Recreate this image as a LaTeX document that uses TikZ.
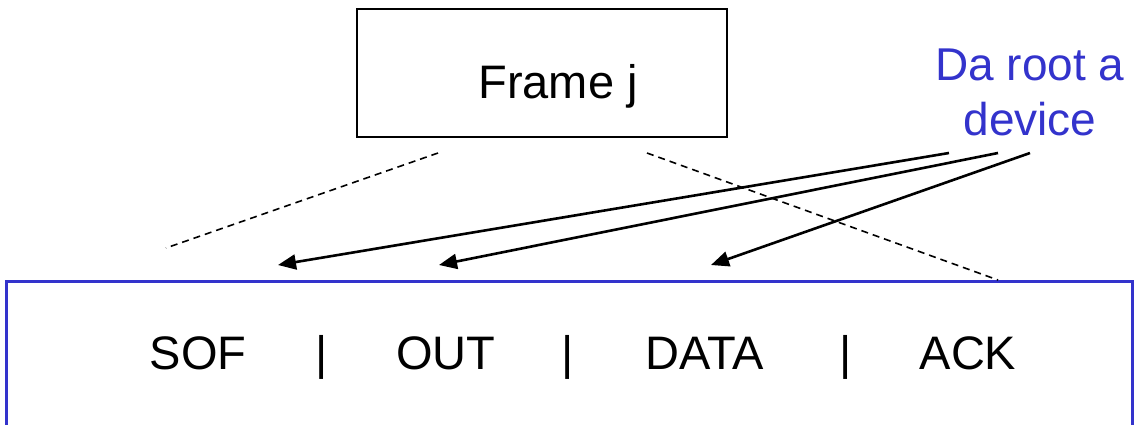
\documentclass[tikz,border=0pt]{standalone}
\usepackage{fontspec}
\setmainfont{Liberation Sans}
\usetikzlibrary{arrows.meta}
\definecolor{frameblue}{HTML}{3333CC}
\tikzset{
  framebox/.style={draw=black, line width=2.6pt, minimum width=370pt, minimum height=128pt, inner sep=0pt},
  packetbox/.style={draw=frameblue, line width=3pt, minimum width=1126pt, minimum height=200pt, inner sep=0pt},
  bigtext/.style={font=\fontsize{47}{56}\selectfont, inner sep=0pt, anchor=base},
  notetext/.style={font=\fontsize{46}{55}\selectfont, text=frameblue, align=center, inner sep=0pt},
  pointer/.style={line width=2.6pt, -{Triangle[length=18pt,width=15pt]}},
  spread/.style={line width=1.6pt, dash pattern=on 7pt off 5pt}
}
\begin{document}
\begin{tikzpicture}[x=1pt,y=-1pt]
\useasboundingbox (0,0) rectangle (1135,424);
% frame header box
\node[framebox] (frame) at (542,73) {};
\node[bigtext] (framelbl) at (558,98) {Frame j};
% packet fields
\node[packetbox] (packet) at (569,381) {};
\node[bigtext] (sof) at (198,369) {SOF};
\node[bigtext] (bar1) at (322,369) {|};
\node[bigtext] (out) at (446,369) {OUT};
\node[bigtext] (bar2) at (568,369) {|};
\node[bigtext] (data) at (705,369) {DATA};
\node[bigtext] (bar3) at (846,369) {|};
\node[bigtext] (ack) at (968,369) {ACK};
% annotation
\node[notetext] (note) at (1030,92) {Da root a\\device};
% dashed expansion lines
\coordinate (dl1) at (438,153);
\coordinate (dl2) at (166,248);
\coordinate (dr1) at (647,153);
\coordinate (dr2) at (998,280);
\draw[spread] (dl1) -- (dl2);
\draw[spread] (dr1) -- (dr2);
% pointers from the annotation
\coordinate (s1) at (949,153);
\coordinate (s2) at (998,153);
\coordinate (s3) at (1030,153);
\coordinate (t1) at (278,265);
\coordinate (t2) at (439,265);
\coordinate (t3) at (711,265);
\draw[pointer] (s1) -- (t1);
\draw[pointer] (s2) -- (t2);
\draw[pointer] (s3) -- (t3);
\end{tikzpicture}
\end{document}
